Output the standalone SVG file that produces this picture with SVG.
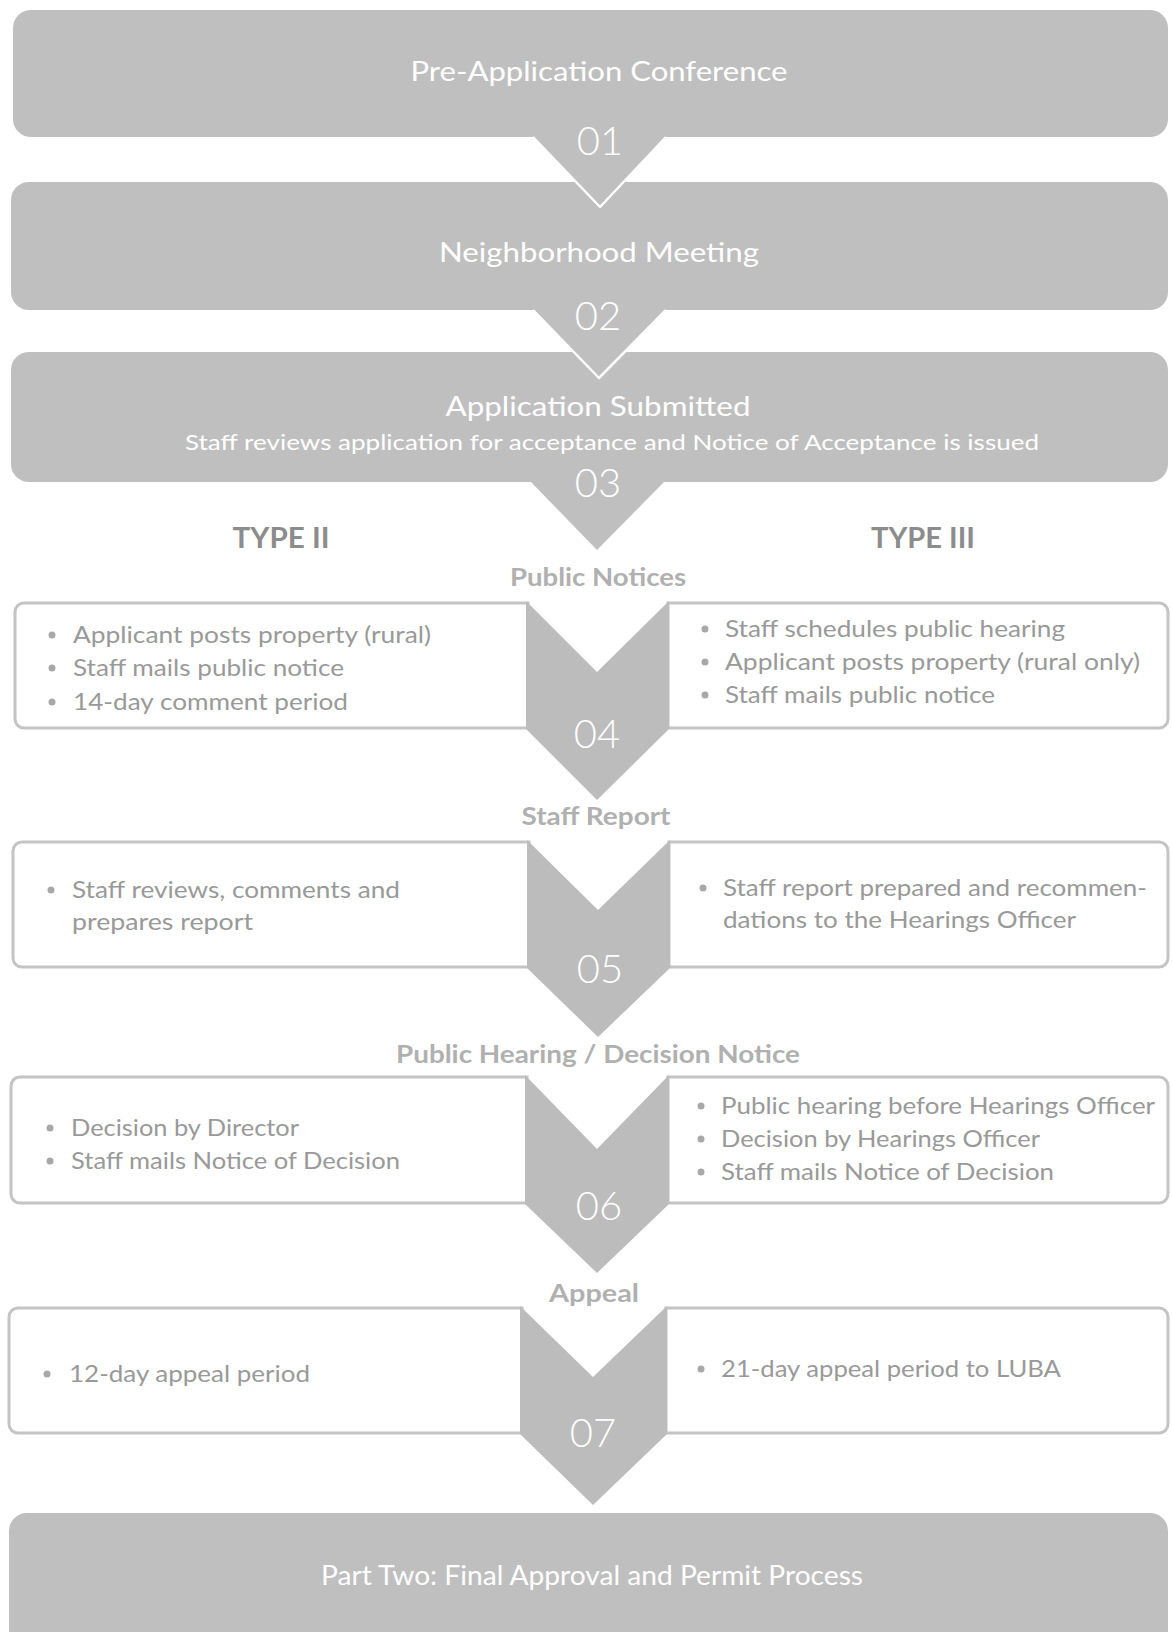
<svg xmlns="http://www.w3.org/2000/svg" width="1172" height="1632" viewBox="0 0 1172 1632">
<style>
  .bar{fill:#bfbfbf}
  .card{fill:#ffffff;stroke:#c4c4c4;stroke-width:3}
  .chev{fill:#bcbcbc}
  .edge{fill:none;stroke:#ffffff;stroke-width:2.5;stroke-linejoin:round}
  .t{font-family:"Lato","Open Sans","Liberation Sans",sans-serif}
  .title{font-size:26px;fill:#ffffff;text-anchor:middle}
  .sub{font-size:21px;fill:#ffffff}
  .num{font-size:40px;fill:#ffffff;text-anchor:middle;font-weight:300}
  .sec{font-size:25px;fill:#b0b0b0;text-anchor:middle;font-weight:bold}
  .type{font-size:28px;fill:#8c8c8c;text-anchor:middle;font-weight:bold}
  .bt{font-size:24px;fill:#999999}
  .dot{fill:#a8a8a8}
</style>
<rect width="1172" height="1632" fill="#ffffff"/>

<g id="node-pre-application">
  <rect class="bar" x="13" y="10" width="1155" height="127" rx="18"/>
  <text class="t title" x="599" y="81" textLength="377" lengthAdjust="spacingAndGlyphs">Pre-Application Conference</text>
</g>
<g id="node-neighborhood">
  <rect class="bar" x="11" y="182" width="1157" height="128" rx="18"/>
  <text class="t title" x="599" y="262" textLength="320" lengthAdjust="spacingAndGlyphs">Neighborhood Meeting</text>
</g>
<g id="node-application">
  <rect class="bar" x="11" y="352" width="1157" height="130" rx="18"/>
  <text class="t title" x="598" y="416" textLength="305" lengthAdjust="spacingAndGlyphs">Application Submitted</text>
  <text class="t sub" x="185" y="450" textLength="854" lengthAdjust="spacingAndGlyphs">Staff reviews application for acceptance and Notice of Acceptance is issued</text>
</g>

<g id="labels">
  <text class="t type" x="281" y="548" textLength="97" lengthAdjust="spacingAndGlyphs">TYPE II</text>
  <text class="t type" x="923" y="548" textLength="104" lengthAdjust="spacingAndGlyphs">TYPE III</text>
  <text class="t sec" x="598" y="586" textLength="176" lengthAdjust="spacingAndGlyphs">Public Notices</text>
  <text class="t sec" x="596" y="825" textLength="149" lengthAdjust="spacingAndGlyphs">Staff Report</text>
  <text class="t sec" x="598" y="1063" textLength="404" lengthAdjust="spacingAndGlyphs">Public Hearing / Decision Notice</text>
  <text class="t sec" x="594" y="1302" textLength="90" lengthAdjust="spacingAndGlyphs">Appeal</text>
</g>

<g id="node-notices-type2">
  <path class="card" d="M24,603 H528 V728 H24 A9,9 0 0 1 15,719 V612 A9,9 0 0 1 24,603 Z"/>
  <circle class="dot" cx="52" cy="635" r="3.5"/>
  <text class="t bt" x="73" y="643" textLength="358" lengthAdjust="spacingAndGlyphs">Applicant posts property (rural)</text>
  <circle class="dot" cx="52" cy="668" r="3.5"/>
  <text class="t bt" x="73" y="676" textLength="271" lengthAdjust="spacingAndGlyphs">Staff mails public notice</text>
  <circle class="dot" cx="52" cy="702" r="3.5"/>
  <text class="t bt" x="73" y="710" textLength="275" lengthAdjust="spacingAndGlyphs">14-day comment period</text>
</g>
<g id="node-notices-type3">
  <path class="card" d="M668,603 H1159 A9,9 0 0 1 1168,612 V719 A9,9 0 0 1 1159,728 H668 Z"/>
  <circle class="dot" cx="705" cy="629" r="3.5"/>
  <text class="t bt" x="725" y="637" textLength="340" lengthAdjust="spacingAndGlyphs">Staff schedules public hearing</text>
  <circle class="dot" cx="705" cy="662" r="3.5"/>
  <text class="t bt" x="725" y="670" textLength="415" lengthAdjust="spacingAndGlyphs">Applicant posts property (rural only)</text>
  <circle class="dot" cx="705" cy="695" r="3.5"/>
  <text class="t bt" x="725" y="703" textLength="270" lengthAdjust="spacingAndGlyphs">Staff mails public notice</text>
</g>

<g id="node-report-type2">
  <path class="card" d="M22,842 H529 V967 H22 A9,9 0 0 1 13,958 V851 A9,9 0 0 1 22,842 Z"/>
  <circle class="dot" cx="51" cy="890" r="3.5"/>
  <text class="t bt" x="72" y="898" textLength="328" lengthAdjust="spacingAndGlyphs">Staff reviews, comments and</text>
  <text class="t bt" x="72" y="930" textLength="181" lengthAdjust="spacingAndGlyphs">prepares report</text>
</g>
<g id="node-report-type3">
  <path class="card" d="M669,842 H1159 A9,9 0 0 1 1168,851 V958 A9,9 0 0 1 1159,967 H669 Z"/>
  <circle class="dot" cx="703" cy="888" r="3.5"/>
  <text class="t bt" x="723" y="896" textLength="424" lengthAdjust="spacingAndGlyphs">Staff report prepared and recommen-</text>
  <text class="t bt" x="723" y="928" textLength="353" lengthAdjust="spacingAndGlyphs">dations to the Hearings Officer</text>
</g>

<g id="node-decision-type2">
  <path class="card" d="M20,1077 H527 V1203 H20 A9,9 0 0 1 11,1194 V1086 A9,9 0 0 1 20,1077 Z"/>
  <circle class="dot" cx="50" cy="1128" r="3.5"/>
  <text class="t bt" x="71" y="1136" textLength="228" lengthAdjust="spacingAndGlyphs">Decision by Director</text>
  <circle class="dot" cx="50" cy="1161" r="3.5"/>
  <text class="t bt" x="71" y="1169" textLength="329" lengthAdjust="spacingAndGlyphs">Staff mails Notice of Decision</text>
</g>
<g id="node-decision-type3">
  <path class="card" d="M668,1077 H1159 A9,9 0 0 1 1168,1086 V1194 A9,9 0 0 1 1159,1203 H668 Z"/>
  <circle class="dot" cx="701" cy="1106" r="3.5"/>
  <text class="t bt" x="721" y="1114" textLength="434" lengthAdjust="spacingAndGlyphs">Public hearing before Hearings Officer</text>
  <circle class="dot" cx="701" cy="1139" r="3.5"/>
  <text class="t bt" x="721" y="1147" textLength="319" lengthAdjust="spacingAndGlyphs">Decision by Hearings Officer</text>
  <circle class="dot" cx="701" cy="1172" r="3.5"/>
  <text class="t bt" x="721" y="1180" textLength="333" lengthAdjust="spacingAndGlyphs">Staff mails Notice of Decision</text>
</g>

<g id="node-appeal-type2">
  <path class="card" d="M18,1308 H522 V1433 H18 A9,9 0 0 1 9,1424 V1317 A9,9 0 0 1 18,1308 Z"/>
  <circle class="dot" cx="47" cy="1374" r="3.5"/>
  <text class="t bt" x="69" y="1382" textLength="241" lengthAdjust="spacingAndGlyphs">12-day appeal period</text>
</g>
<g id="node-appeal-type3">
  <path class="card" d="M666,1308 H1159 A9,9 0 0 1 1168,1317 V1424 A9,9 0 0 1 1159,1433 H666 Z"/>
  <circle class="dot" cx="701" cy="1369" r="3.5"/>
  <text class="t bt" x="721" y="1377" textLength="340" lengthAdjust="spacingAndGlyphs">21-day appeal period to LUBA</text>
</g>

<g id="node-part-two">
  <rect class="bar" x="9" y="1513" width="1159" height="140" rx="18"/>
  <text class="t title" x="592" y="1585" textLength="542" lengthAdjust="spacingAndGlyphs">Part Two: Final Approval and Permit Process</text>
</g>

<g id="connectors">
  <g id="step-01">
    <polygon class="bar" points="533,136 666,136 600,207"/>
    <polyline class="edge" points="533,137 600,207 666,137"/>
    <text class="t num" x="600" y="155">01</text>
  </g>
  <g id="step-02">
    <polygon class="bar" points="533,309 666,309 599,378"/>
    <polyline class="edge" points="533,310 599,378 666,310"/>
    <text class="t num" x="598" y="330">02</text>
  </g>
  <g id="step-03">
    <polygon class="bar" points="530,481 665,481 597,550"/>
    <text class="t num" x="598" y="497">03</text>
  </g>
  <g id="step-04">
    <polygon class="chev" points="526,601 597,672 669,601 669,729 597,800 526,729"/>
    <text class="t num" x="597" y="748">04</text>
  </g>
  <g id="step-05">
    <polygon class="chev" points="527,840 598,910 670,840 670,968 598,1037 527,968"/>
    <text class="t num" x="600" y="983">05</text>
  </g>
  <g id="step-06">
    <polygon class="chev" points="525,1075 597,1149 669,1075 669,1204 597,1273 525,1204"/>
    <text class="t num" x="599" y="1220">06</text>
  </g>
  <g id="step-07">
    <polygon class="chev" points="520,1306 593,1377 667,1306 667,1434 593,1505 520,1434"/>
    <text class="t num" x="593" y="1447">07</text>
  </g>
</g>
</svg>
